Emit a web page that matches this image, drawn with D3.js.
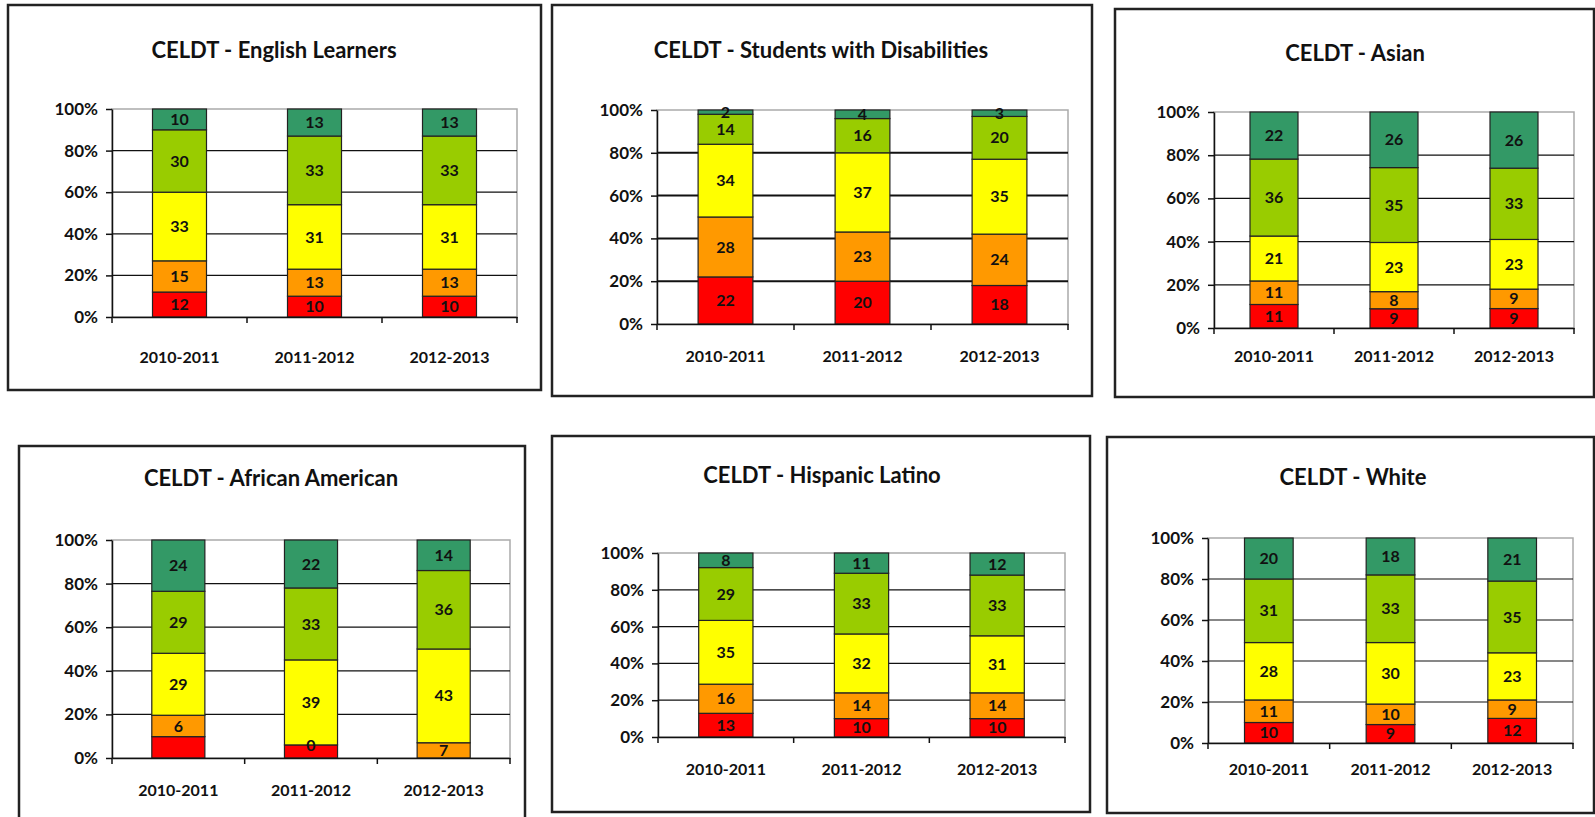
<!DOCTYPE html>
<html>
<head>
<meta charset="utf-8">
<script src="https://cdn.jsdelivr.net/npm/d3@7"></script>
<style>
  body { margin: 0; background: #fff; }
  text { font-family: Lato, "Open Sans", sans-serif; font-weight: 700; fill: #111; }
</style>
</head>
<body>
<svg id="chart" width="1595" height="817"></svg>
<script>
// CELDT performance levels, bottom to top of each bar
var levels = ["Beginning", "Early Intermediate", "Intermediate", "Early Advanced", "Advanced"];
var levelColors = ["#ff0000", "#ff9900", "#ffff00", "#99cc00", "#339966"];
var years = ["2010-2011", "2011-2012", "2012-2013"];
var yTicks = [0, 0.2, 0.4, 0.6, 0.8, 1];

// one row per school year, values per level (percent)
var englishLearners = [[12, 15, 33, 30, 10], [10, 13, 31, 33, 13], [10, 13, 31, 33, 13]];
var disabilities = [[22, 28, 34, 14, 2], [20, 23, 37, 16, 4], [18, 24, 35, 20, 3]];
var asian = [[11, 11, 21, 36, 22], [9, 8, 23, 35, 26], [9, 9, 23, 33, 26]];
var africanAmerican = [[10, 10, 29, 29, 24], [6, 0, 39, 33, 22], [0, 7, 43, 36, 14]];
// the printed labels on this one don't all match the bar heights
var africanAmericanLabels = [["", "6", "29", "29", "24"], ["", "0", "39", "33", "22"], ["", "7", "43", "36", "14"]];
var hispanic = [[13, 16, 35, 29, 8], [10, 14, 32, 33, 11], [10, 14, 31, 33, 12]];
var white = [[10, 11, 28, 31, 20], [9, 10, 30, 33, 18], [12, 9, 23, 35, 21]];

var panels = [
  { title: "CELDT - English Learners", data: englishLearners,
    frame: [8, 5, 541, 390], plot: [112, 109, 517, 317], tx: 274, ty: 50, ly: 358, grid: 1.2 },
  { title: "CELDT - Students with Disabilities", data: disabilities,
    frame: [552, 5, 1092, 396], plot: [657, 110, 1068, 324], tx: 821, ty: 50, ly: 357, grid: 2 },
  { title: "CELDT - Asian", data: asian,
    frame: [1115, 9, 1594, 397], plot: [1214, 112, 1574, 328], tx: 1355, ty: 53, ly: 357, grid: 1.2 },
  { title: "CELDT - African American", data: africanAmerican, labels: africanAmericanLabels,
    frame: [19, 446, 525, 840], plot: [112, 540, 510, 758], tx: 271, ty: 478, ly: 791, grid: 1.2 },
  { title: "CELDT - Hispanic Latino", data: hispanic,
    frame: [552, 436, 1090, 812], plot: [658, 553, 1065, 737], tx: 822, ty: 475, ly: 770, grid: 1.2 },
  { title: "CELDT - White", data: white,
    frame: [1107, 437, 1594, 813], plot: [1208, 538, 1573, 743], tx: 1353, ty: 477, ly: 770, grid: 1.2 }
];

var svg = d3.select("#chart");
svg.append("rect").attr("width", 1595).attr("height", 817).attr("fill", "#fff");

panels.forEach(function (p) {
  var g = svg.append("g");
  var left = p.plot[0], top = p.plot[1], right = p.plot[2], bottom = p.plot[3];

  g.append("rect")
    .attr("x", p.frame[0]).attr("y", p.frame[1])
    .attr("width", p.frame[2] - p.frame[0]).attr("height", p.frame[3] - p.frame[1])
    .attr("fill", "none").attr("stroke", "#222").attr("stroke-width", 2.5);

  g.append("text")
    .attr("x", p.tx).attr("y", p.ty).attr("dy", "0.35em")
    .attr("text-anchor", "middle")
    .style("font-size", "22px")
    .text(p.title);

  var x = d3.scaleBand().domain(years).range([left, right])
    .paddingInner(0.6).paddingOuter(0.3);
  var y = d3.scaleLinear().domain([0, 1]).range([bottom, top]);

  // plot area border
  g.append("rect")
    .attr("x", left).attr("y", top)
    .attr("width", right - left).attr("height", bottom - top)
    .attr("fill", "#fff").attr("stroke", "#aaa").attr("stroke-width", 1.5);

  // gridlines
  g.selectAll(".grid").data(yTicks.slice(1, -1)).enter().append("line")
    .attr("x1", left).attr("x2", right)
    .attr("y1", function (d) { return y(d); }).attr("y2", function (d) { return y(d); })
    .attr("stroke", "#111").attr("stroke-width", p.grid);

  var rows = p.data.map(function (r, i) {
    var o = { year: years[i] };
    levels.forEach(function (l, j) { o[l] = r[j]; });
    return o;
  });
  var series = d3.stack().keys(levels).offset(d3.stackOffsetExpand)(rows);

  var layer = g.selectAll(".layer").data(series).enter().append("g")
    .attr("fill", function (d, i) { return levelColors[i]; });

  layer.selectAll("rect").data(function (d) { return d; }).enter().append("rect")
    .attr("x", function (d) { return x(d.data.year); })
    .attr("width", x.bandwidth())
    .attr("y", function (d) { return y(d[1]); })
    .attr("height", function (d) { return y(d[0]) - y(d[1]); })
    .attr("stroke", "#222").attr("stroke-width", 1.2);

  // value labels
  series.forEach(function (s, j) {
    s.forEach(function (d, i) {
      var txt = p.labels ? p.labels[i][j] : String(p.data[i][j]);
      if (txt === "") return;
      g.append("text")
        .attr("x", x(d.data.year) + x.bandwidth() / 2)
        .attr("y", y((d[0] + d[1]) / 2))
        .attr("dy", "0.35em")
        .attr("text-anchor", "middle")
        .style("font-size", "16px")
        .text(txt);
    });
  });

  // y axis
  var ya = g.append("g").attr("transform", "translate(" + left + ",0)")
    .call(d3.axisLeft(y).tickValues(yTicks).tickFormat(d3.format(".0%"))
      .tickSize(6).tickSizeOuter(0).tickPadding(8));
  ya.selectAll("text").style("font-size", "17px");

  // x axis, labels under each bar, ticks at category boundaries
  var xa = g.append("g").attr("transform", "translate(0," + bottom + ")")
    .call(d3.axisBottom(x).tickSize(0).tickSizeOuter(0).tickPadding(p.ly - bottom - 6));
  xa.selectAll("text").style("font-size", "16px");
  xa.selectAll(".bound").data(d3.range(years.length + 1)).enter().append("line")
    .attr("x1", function (i) { return left + i * x.step(); })
    .attr("x2", function (i) { return left + i * x.step(); })
    .attr("y1", 0).attr("y2", 6)
    .attr("stroke", "#111").attr("stroke-width", 1.5);

  g.selectAll(".domain").attr("stroke", "#111").attr("stroke-width", 1.5);
  g.selectAll(".tick line").attr("stroke", "#111").attr("stroke-width", 1.5);
});
</script>
</body>
</html>
